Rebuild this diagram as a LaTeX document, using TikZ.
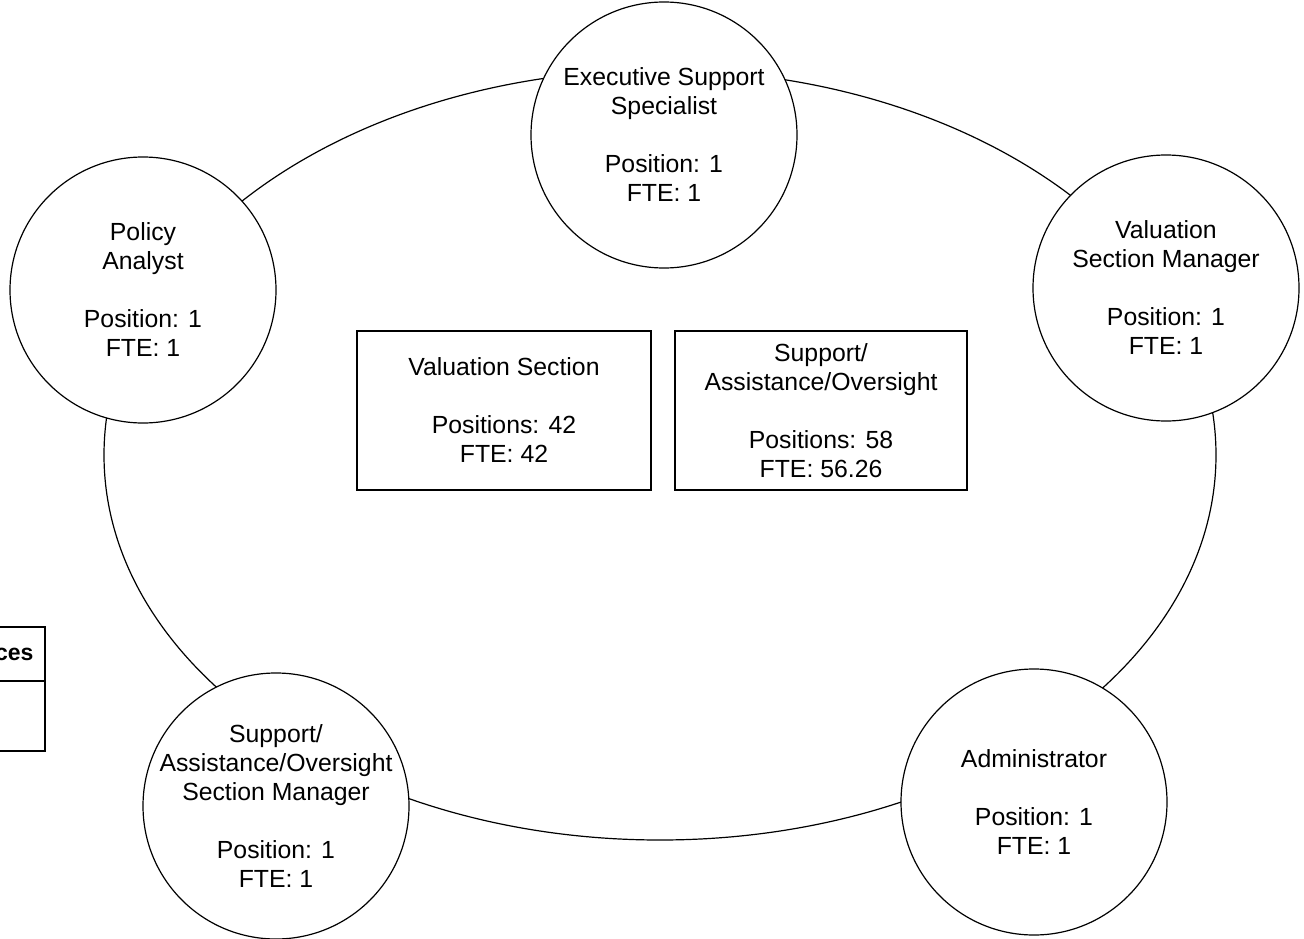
\documentclass[tikz,border=0pt]{standalone}
\usepackage{fontspec}
\setmainfont{Liberation Sans}
\usetikzlibrary{shapes.geometric}
\begin{document}
\begin{tikzpicture}[x=1pt,y=-1pt,
  line width=1.2pt,
  txt/.style={font=\fontsize{24.8}{29}\selectfont},
  role/.style={circle, draw, fill=white, minimum size=266pt, inner sep=-60pt, align=center, txt},
  unitbox/.style={rectangle, draw, fill=white, minimum height=159pt, inner sep=0pt, align=center, txt},
  ring/.style={ellipse, draw, minimum width=1112pt, minimum height=770pt, inner sep=0pt}]
\useasboundingbox (0,0) rectangle (1304,939);
\clip (0,0) rectangle (1304,939);
% partial table at left edge
\draw (-80,627) rectangle (45,751);
\draw (-80,681) -- (45,681);
\node[anchor=base east, inner sep=0pt, font=\fontsize{23}{28}\selectfont\bfseries] (tabhead) at (34,660) {ces};
% ring
\node[ring] (ring) at (660,455) {};
% central boxes
\node[unitbox, minimum width=294pt] (val) at (504,410.5) {Valuation Section\\[29pt]Positions: 42\\FTE: 42};
\node[unitbox, minimum width=292pt] (sup) at (821,410.5) {Support/\\Assistance/Oversight\\[29pt]Positions: 58\\FTE: 56.26};
% role circles
\node[role] (exec) at (664,135) {Executive Support\\Specialist\\[29pt]Position: 1\\FTE: 1};
\node[role] (policy) at (143,290) {Policy\\Analyst\\[29pt]Position: 1\\FTE: 1};
\node[role] (valmgr) at (1166,288) {Valuation\\Section Manager\\[29pt]Position: 1\\FTE: 1};
\node[role] (supmgr) at (276,806) {Support/\\Assistance/Oversight\\Section Manager\\[29pt]Position: 1\\FTE: 1};
\node[role] (admin) at (1034,802) {Administrator\\[29pt]Position: 1\\FTE: 1};
\end{tikzpicture}
\end{document}
